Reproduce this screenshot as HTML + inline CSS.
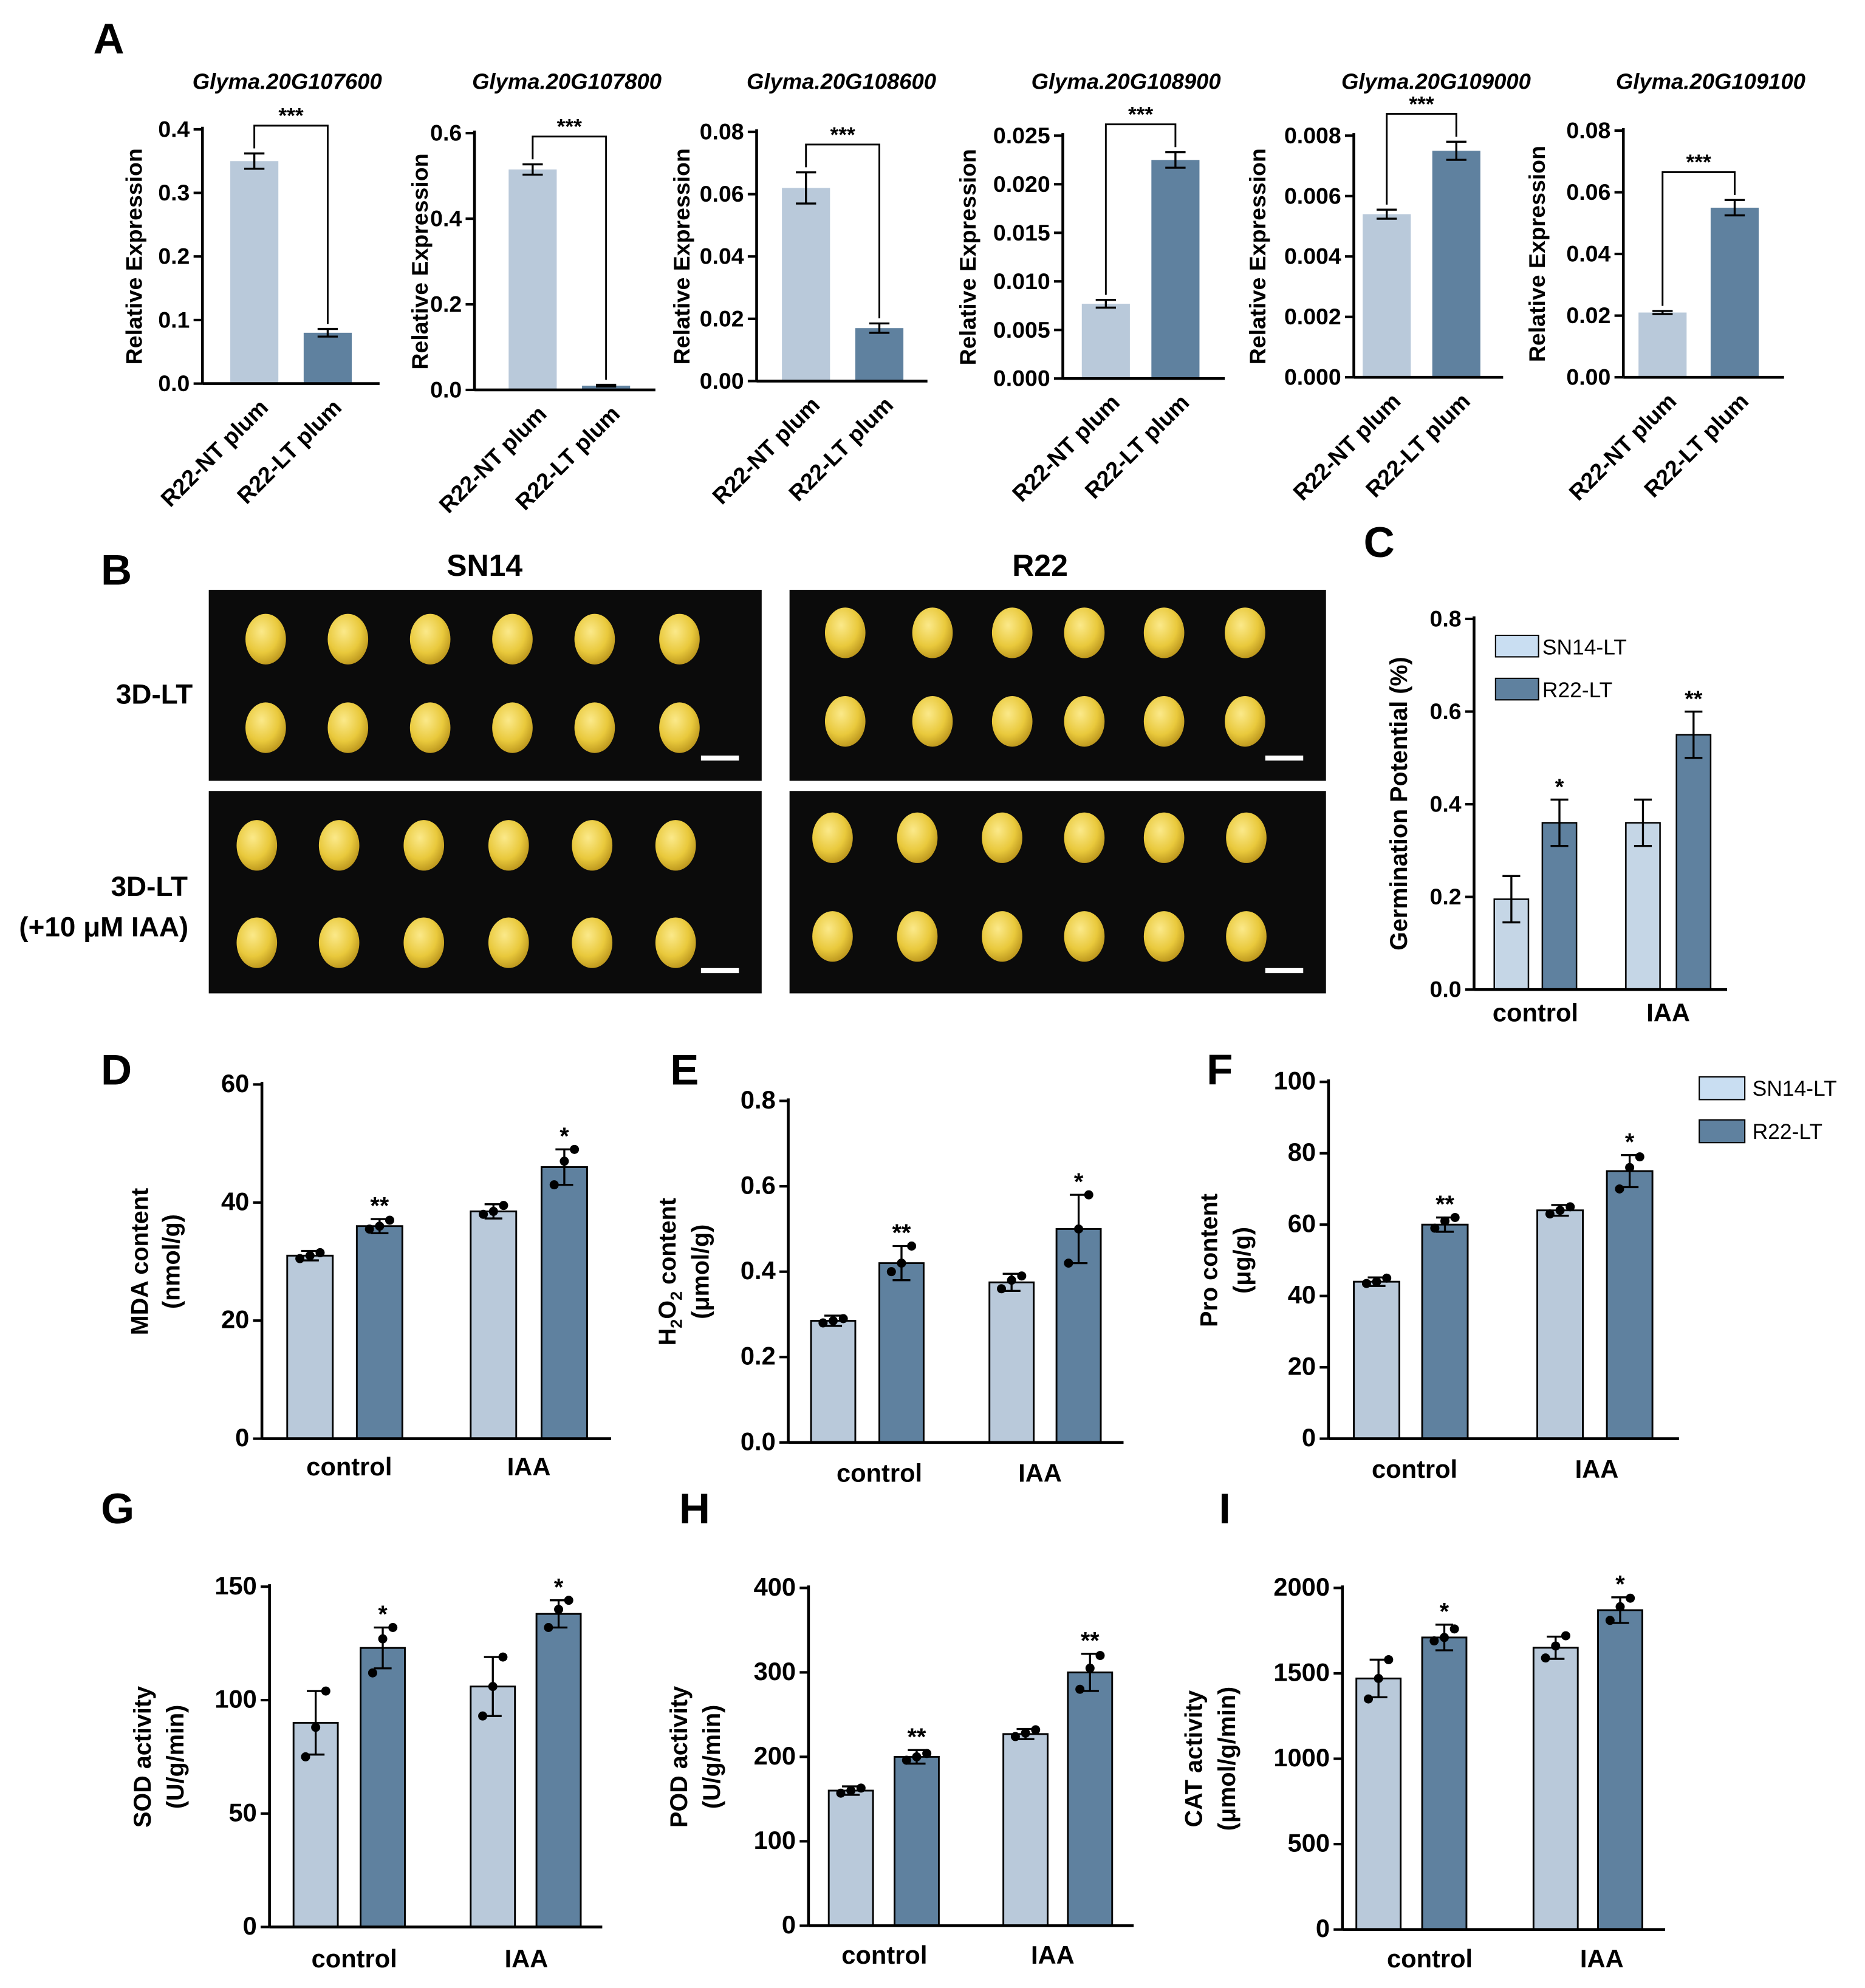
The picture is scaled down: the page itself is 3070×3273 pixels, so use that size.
<!DOCTYPE html>
<html><head><meta charset="utf-8"><style>
html,body{margin:0;padding:0;background:#fff}
svg{display:block}
text{font-family:"Liberation Sans",Arial,sans-serif;fill:#000}
</style></head><body>
<svg id="fig" width="3070" height="3273" viewBox="0 0 1474 1571" xmlns="http://www.w3.org/2000/svg">
<defs>
<radialGradient id="seedg" cx="40%" cy="35%" r="70%"><stop offset="0" stop-color="#fbe98a"/><stop offset="0.6" stop-color="#e9c93c"/><stop offset="1" stop-color="#b8921a"/></radialGradient>
</defs>
<g id="root"></g>
</svg>
<script>
// ---- Panel A data ----
const aTitles=["Glyma.20G107600","Glyma.20G107800","Glyma.20G108600","Glyma.20G108900","Glyma.20G109000","Glyma.20G109100"];
const aCats=["R22-NT plum","R22-LT plum"];
const aNT=[0.35,0.515,0.062,0.0077,0.0054,0.021];
const aLT=[0.08,0.01,0.017,0.0225,0.0075,0.055];
const aErrNT=[0.012,0.012,0.005,0.0004,0.00015,0.0005];
const aErrLT=[0.006,0.002,0.0015,0.0008,0.0003,0.0025];
const aMax=[0.4,0.6,0.08,0.025,0.008,0.08];
const aStep=[0.1,0.2,0.02,0.005,0.002,0.02];
const aDec=[1,1,2,3,3,2];
// ---- Panel C data ----
const cGroups=["control","IAA"];
const cSN14=[0.195,0.36];
const cR22=[0.36,0.55];
const cErrSN14=[0.05,0.05];
const cErrR22=[0.05,0.05];
const cSig=["*","**"];
// ---- Panels D-I data ----
const dVals=[31,36,38.5,46]; const dErr=[0.8,1.2,1.2,3]; const dDots=[[30.5,31,31.5],[35.5,36,37],[38,38.5,39.5],[43,47,49]]; const dSig=["","**","","*"];
const eVals=[0.285,0.42,0.375,0.50]; const eErr=[0.012,0.04,0.02,0.08]; const eDots=[[0.28,0.285,0.29],[0.40,0.42,0.46],[0.36,0.38,0.39],[0.42,0.50,0.58]]; const eSig=["","**","","*"];
const fVals=[44,60,64,75]; const fErr=[1.2,2,1.5,4.5]; const fDots=[[43.5,44,45],[59,61,62],[63,64,65],[70,76,79]]; const fSig=["","**","","*"];
const gVals=[90,123,106,138]; const gErr=[14,9,13,6]; const gDots=[[75,88,104],[112,127,132],[93,106,119],[132,140,144]]; const gSig=["","*","","*"];
const hVals=[160,200,227,300]; const hErr=[5,8,6,22]; const hDots=[[157,160,163],[196,200,204],[224,228,232],[280,305,320]]; const hSig=["","**","","**"];
const iVals=[1470,1710,1650,1870]; const iErr=[110,75,65,75]; const iDots=[[1350,1470,1580],[1690,1710,1760],[1590,1660,1720],[1810,1890,1940]]; const iSig=["","*","","*"];
const groupLabels=["control","IAA"];
const legendLabels=["SN14-LT","R22-LT"];

const NS="http://www.w3.org/2000/svg";
const root=document.getElementById('root');
const LIGHT="#b9c9da", DARK="#5f819f";
function el(tag,attrs,parent){const e=document.createElementNS(NS,tag);for(const k in attrs)e.setAttribute(k,attrs[k]);(parent||root).appendChild(e);return e;}
function txt(s,x,y,size,opts,parent){opts=opts||{};const t=el('text',{x:x,y:y,'font-size':size,'font-weight':opts.w||'bold','text-anchor':opts.a||'middle'},parent);if(opts.it)t.setAttribute('font-style','italic');if(opts.tr)t.setAttribute('transform',opts.tr);t.textContent=s;return t;}

function axisY(g,ax,top,bot,max,step,dec,size){
  const y=v=>bot-(v/max)*(bot-top);
  const l=el('line',{x1:ax,y1:top-2,x2:ax,y2:bot,stroke:'#000','stroke-width':2.2},g);
  
  
  for(let v=0;v<=max+1e-9;v+=step){
    el('line',{x1:ax-7,y1:y(v),x2:ax,y2:y(v),stroke:'#000','stroke-width':2},g);
    const t=txt(v.toFixed(dec),ax-10,y(v)+6,size,{a:'end'},g);
    
    
  }
  return y;
}
function errBar(g,cx,yTop,yBot,cap){
  el('line',{x1:cx,y1:yTop,x2:cx,y2:yBot,stroke:'#000','stroke-width':1.6},g);
  el('line',{x1:cx-cap,y1:yTop,x2:cx+cap,y2:yTop,stroke:'#000','stroke-width':1.6},g);
  el('line',{x1:cx-cap,y1:yBot,x2:cx+cap,y2:yBot,stroke:'#000','stroke-width':1.6},g);
}

// ---- Panel A ----
txt("A",86,42,34,{});
const aGeo=[[160,102,303,182,240,300,227],[375,105,308,402,460,518,448],[598,104,301,618,676,733,665],[840,107,299,855,910,968,890],[1070,107,298,1077,1132,1188,1135],[1283,103,298,1295,1352,1410,1352]];
const aYlab=[112,338,545,771,1000,1221];
aTitles.forEach((title,i)=>{
  const [ax,top,bot,b1,b2,end,tx]=aGeo[i];
  const g=el('g',{});
  
  
  const tt=txt(title,tx,70,17.5,{it:1},g);
  
  
  const yl=txt("Relative Expression",aYlab[i],(top+bot)/2,18,{tr:`rotate(-90 ${aYlab[i]} ${(top+bot)/2})`},g);
  
  
  const y=axisY(g,ax,top,bot,aMax[i],aStep[i],aDec[i],18);
  const vals=[aNT[i],aLT[i]],errs=[aErrNT[i],aErrLT[i]],xs=[b1,b2],cols=[LIGHT,DARK];
  const w=38;
  vals.forEach((v,j)=>{
    const r=el('rect',{x:xs[j],y:y(v),width:w,height:bot-y(v),fill:cols[j]},g);
    
    
    errBar(g,xs[j]+w/2,y(v+errs[j]),y(v-errs[j]),8);
    const lx=xs[j]+w/2+12, ly=bot+20;
    const lb=txt(aCats[j],lx,ly,18,{a:'end',tr:`rotate(-45 ${lx} ${ly})`},g);
    
    
  });
  el('line',{x1:ax,y1:bot,x2:end,y2:bot,stroke:'#000','stroke-width':2.2},g);
  const bt=Math.min(y(vals[0]+errs[0]),y(vals[1]+errs[1]))-22;
  const c1=b1+w/2,c2=b2+w/2;
  el('polyline',{points:`${c1},${y(vals[0]+errs[0])-4} ${c1},${bt} ${c2},${bt} ${c2},${y(vals[1]+errs[1])-4}`,fill:'none',stroke:'#000','stroke-width':1.4},g);
  txt("***",(c1+c2)/2,bt-2,17,{},g);
});

// ---- Panel B ----
txt("B",92,462,34,{});
txt("SN14",383,455,24,{});
txt("R22",822,455,24,{});
txt("3D-LT",122,556,22,{});
txt("3D-LT",118,708,22,{});
txt("(+10 μM IAA)",82,740,22,{});
const photos=[[165,466,437,151,[210,275,340,405,470,537],[505,575]],[624,466,424,151,[668,737,800,857,920,984],[500,570]],[165,625,437,160,[203,268,335,402,468,534],[668,745]],[624,625,424,160,[658,725,792,857,920,985],[662,740]]];
photos.forEach((p,k)=>{
  const g=el('g',{});
  
  
  el('rect',{x:p[0],y:p[1],width:p[2],height:p[3],fill:'#0b0b0b'},g);
  p[5].forEach(sy=>p[4].forEach(sx=>{el('ellipse',{cx:sx,cy:sy,rx:16,ry:20,fill:'url(#seedg)'},g);}));
  el('rect',{x:p[0]+p[2]-48,y:p[1]+p[3]-20,width:30,height:4,fill:'#fff'},g);
});

// ---- Panel C ----
txt("C",1090,440,34,{});
{
  const g=el('g',{});
  
  
  const ax=1165,top=489,bot=782;
  const y=axisY(g,ax,top,bot,0.8,0.2,1,18);
  const xs=[[1181,1219],[1285,1325]],w=27;
  cGroups.forEach((gname,i)=>{
    const v=[cSN14[i],cR22[i]],e=[cErrSN14[i],cErrR22[i]],cols=["#c5d6e6",DARK];
    v.forEach((val,j)=>{
      const r=el('rect',{x:xs[i][j],y:y(val),width:w,height:bot-y(val),fill:cols[j],stroke:'#000','stroke-width':1.2},g);
      
      
      errBar(g,xs[i][j]+w/2,y(val+e[j]),y(val-e[j]),7);
    });
    txt(cSig[i],xs[i][1]+w/2,y(v[1]+e[1])-4,18,{},g);
    const lb=txt(gname,(xs[i][0]+xs[i][1]+w)/2,807,20,{},g);
    
    
  });
  el('line',{x1:ax,y1:bot,x2:1365,y2:bot,stroke:'#000','stroke-width':2.2},g);
  txt("Germination Potential (%)",1112,635,19,{tr:'rotate(-90 1112 635)'},g);
  legendLabels.forEach((s,j)=>{
    const lg=el('rect',{x:1182,y:502+34*j,width:34,height:17,fill:j?DARK:"#c9def2",stroke:'#000','stroke-width':1},g);
    
    
    txt(s,1219,517+34*j,17,{a:'start',w:'normal'},g);
  });
}

// ---- Panels D-I ----
function dotChart(cfg){
  const g=el('g',{});
  
  
  txt(cfg.letter,cfg.lx,cfg.ly,34,{},g);
  const y=axisY(g,cfg.ax,cfg.top,cfg.bot,cfg.max,cfg.step,cfg.dec,20);
  const w=cfg.w;
  cfg.vals.forEach((v,j)=>{
    const x=cfg.xs[j];
    const r=el('rect',{x:x,y:y(v),width:w,height:cfg.bot-y(v),fill:j%2?DARK:LIGHT,stroke:'#000','stroke-width':1.4},g);
    
    
    errBar(g,x+w/2,y(v+cfg.err[j]),y(v-cfg.err[j]),7);
    const offs=[-8,0,8];
    cfg.dots[j].forEach((d,k)=>{el('circle',{cx:x+w/2+offs[k],cy:y(d),r:3.6,fill:'#000'},g);});
    if(cfg.sig[j]) txt(cfg.sig[j],x+w/2,y(v+cfg.err[j])-4,19,{},g);
  });
  el('line',{x1:cfg.ax,y1:cfg.bot,x2:cfg.end,y2:cfg.bot,stroke:'#000','stroke-width':2.2},g);
  groupLabels.forEach((s,i)=>{
    const lb=txt(s,cfg.gx[i],cfg.gy,20,{},g);
    
    
  });
  const cy=(cfg.top+cfg.bot)/2;
  cfg.ytitle.forEach((s,k)=>{
    const t=txt('',cfg.tx[k],cy,19,{tr:`rotate(-90 ${cfg.tx[k]} ${cy})`},g);
    if(Array.isArray(s)){s.forEach(p=>{const ts=el('tspan',{'font-size':p[2],dy:p[1]},t);ts.textContent=p[0];});}
    else t.textContent=s;
    
    
  });
}
dotChart({name:'mda-chart',letter:'D',lx:92,ly:857,ax:207,top:857,bot:1137,max:60,step:20,dec:0,xs:[227,282,372,428],w:36,vals:dVals,err:dErr,dots:dDots,sig:dSig,end:483,gx:[276,418],gy:1166,ytitle:["MDA content","(nmol/g)"],tx:[117,142]});
dotChart({name:'h2o2-chart',letter:'E',lx:541,ly:857,ax:623,top:870,bot:1140,max:0.8,step:0.2,dec:1,xs:[641,695,782,835],w:35,vals:eVals,err:eErr,dots:eDots,sig:eSig,end:888,gx:[695,822],gy:1171,ytitle:[[["H",0,19],["2",5,13],["O",-5,19],["2",5,13],[" content",-5,19]],"(μmol/g)"],tx:[534,560]});
dotChart({name:'proline-chart',letter:'F',lx:964,ly:857,ax:1050,top:855,bot:1137,max:100,step:20,dec:0,xs:[1070,1124,1215,1270],w:36,vals:fVals,err:fErr,dots:fDots,sig:fSig,end:1327,gx:[1118,1262],gy:1168,ytitle:["Pro content","(μg/g)"],tx:[962,988]});
dotChart({name:'sod-chart',letter:'G',lx:93,ly:1204,ax:213,top:1254,bot:1523,max:150,step:50,dec:0,xs:[232,285,372,424],w:35,vals:gVals,err:gErr,dots:gDots,sig:gSig,end:476,gx:[280,416],gy:1555,ytitle:["SOD activity","(U/g/min)"],tx:[119,145]});
dotChart({name:'pod-chart',letter:'H',lx:549,ly:1204,ax:639,top:1255,bot:1522,max:400,step:100,dec:0,xs:[655,707,793,844],w:35,vals:hVals,err:hErr,dots:hDots,sig:hSig,end:896,gx:[699,832],gy:1552,ytitle:["POD activity","(U/g/min)"],tx:[543,569]});
dotChart({name:'cat-chart',letter:'I',lx:968,ly:1204,ax:1061,top:1255,bot:1525,max:2000,step:500,dec:0,xs:[1072,1124,1212,1263],w:35,vals:iVals,err:iErr,dots:iDots,sig:iSig,end:1316,gx:[1130,1266],gy:1555,ytitle:["CAT activity","(μmol/g/min)"],tx:[950,976]});
legendLabels.forEach((s,j)=>{
  const lg=el('rect',{x:1343,y:851+34*j,width:36,height:18,fill:j?DARK:"#c9def2",stroke:'#000','stroke-width':1});
  
  
  txt(s,1385,866+34*j,17,{a:'start',w:'normal'});
});
</script>
</body></html>
